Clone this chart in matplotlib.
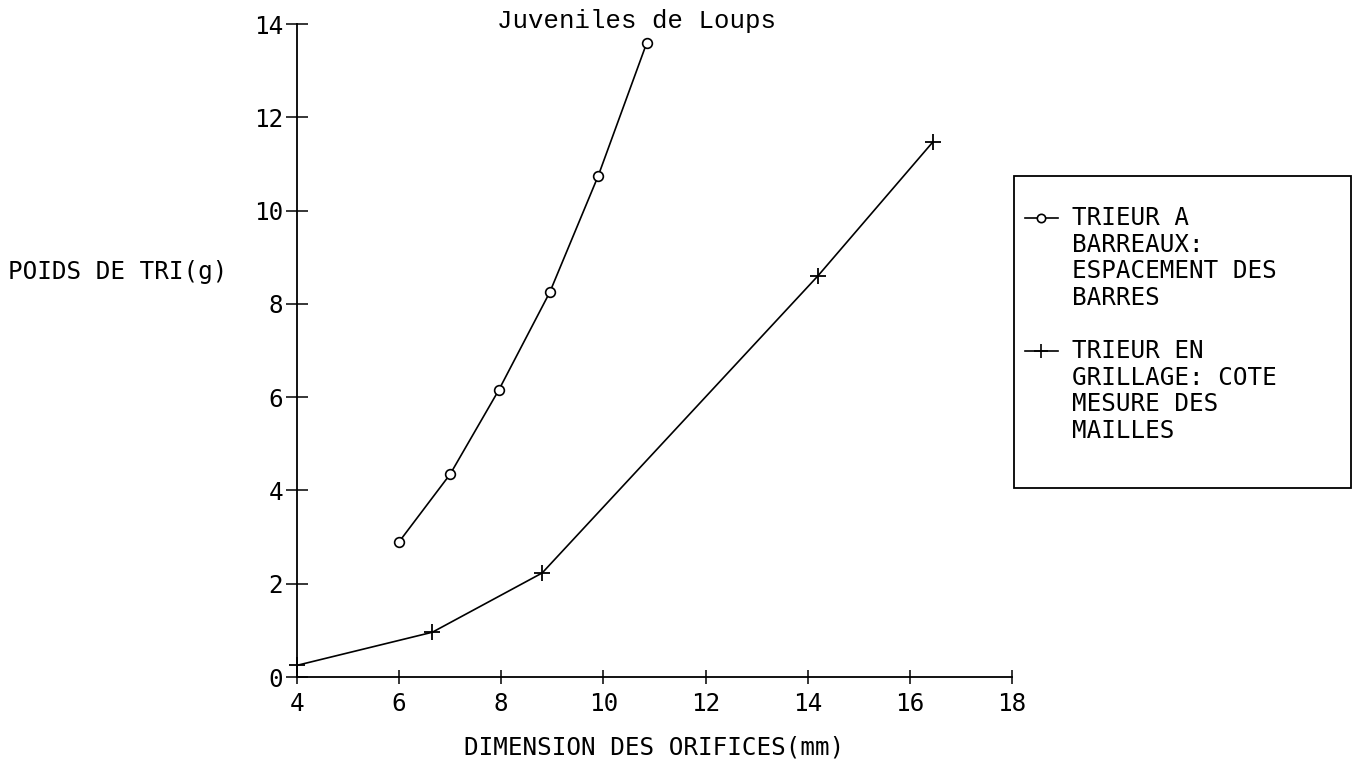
import matplotlib.pyplot as plt
from matplotlib.lines import Line2D
from matplotlib.patches import Rectangle

# barreaux (cercles)
barreaux_x = [6.0, 7.0, 7.95, 8.95, 9.9, 10.85]
barreaux_y = [2.9, 4.35, 6.15, 8.25, 10.75, 13.6]

# grillage (croix)
grillage_x = [4.0, 6.65, 8.8, 14.2, 16.45]
grillage_y = [0.25, 0.96, 2.23, 8.6, 11.47]

x_ticks = [4, 6, 8, 10, 12, 14, 16, 18]
y_ticks = [0, 2, 4, 6, 8, 10, 12, 14]

legende_1 = ["TRIEUR A", "BARREAUX:", "ESPACEMENT DES", "BARRES"]
legende_2 = ["TRIEUR EN", "GRILLAGE: COTE", "MESURE DES", "MAILLES"]

police = "DejaVu Sans Mono"
taille = 17.5

fig = plt.figure(figsize=(13.58, 7.63), dpi=100)
ax = fig.add_axes([0.2187, 0.1127, 0.5265, 0.8558])

ax.plot(barreaux_x, barreaux_y, color="black", linewidth=1.2, clip_on=False,
        marker="o", markersize=7, markerfacecolor="white", markeredgewidth=1.2)
ax.plot(grillage_x, grillage_y, color="black", linewidth=1.2, clip_on=False,
        marker="+", markersize=11, markeredgewidth=1.3)

ax.set_xlim(4, 18)
ax.set_ylim(0, 14)
ax.set_xticks(x_ticks)
ax.set_yticks(y_ticks)
ax.spines["top"].set_visible(False)
ax.spines["right"].set_visible(False)
for s in ["left", "bottom"]:
    ax.spines[s].set_linewidth(1.3)
ax.tick_params(axis="y", direction="inout", length=16, width=1.1, pad=2)
ax.tick_params(axis="x", direction="inout", length=10, width=1.1, pad=6)
for lab in ax.get_xticklabels() + ax.get_yticklabels():
    lab.set_fontfamily(police)
    lab.set_fontsize(taille)

fig.text(0.469, 0.988, "Juveniles de Loups", family="Liberation Mono",
         fontsize=18.5, ha="center", va="top")
fig.text(0.482, 1 - 748 / 763, "DIMENSION DES ORIFICES(mm)", family=police,
         fontsize=taille, ha="center", va="center")
fig.text(0.006, 0.643, "POIDS DE TRI(g)", family=police,
         fontsize=taille, ha="left", va="center")

# cadre de la legende
x0, y0 = 1014 / 1358, 1 - 488 / 763
x1, y1 = 1351 / 1358, 1 - 176 / 763
fig.add_artist(Rectangle((x0, y0), x1 - x0, y1 - y0, transform=fig.transFigure,
                         fill=False, edgecolor="black", linewidth=1.3))

pas = 26.7
for k, (lignes, marq, ms, haut) in enumerate([(legende_1, "o", 6, 218),
                                              (legende_2, "+", 10, 351)]):
    yh = 1 - haut / 763
    fig.add_artist(Line2D([1025 / 1358, 1058 / 1358], [yh, yh], transform=fig.transFigure,
                          color="black", linewidth=1.2))
    fig.add_artist(Line2D([1041 / 1358], [yh], transform=fig.transFigure,
                          color="black", marker=marq, markersize=ms,
                          markerfacecolor="white", markeredgewidth=1.2))
    for i, t in enumerate(lignes):
        fig.text(1072 / 1358, 1 - (haut + i * pas) / 763, t, family=police,
                 fontsize=taille, ha="left", va="center")

plt.savefig("out.png", dpi=100)
plt.close("all")
